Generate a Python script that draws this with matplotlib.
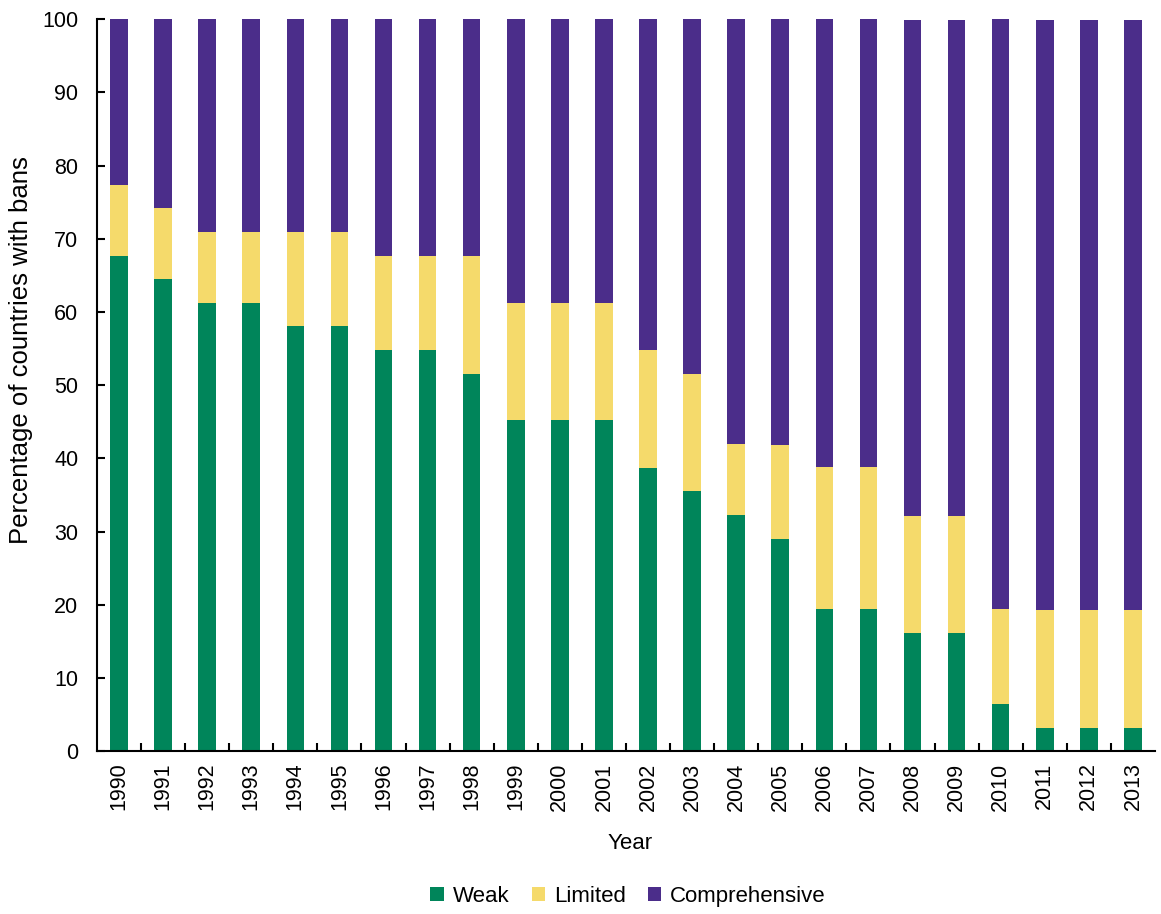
import numpy as np
import matplotlib
matplotlib.use("Agg")
from matplotlib import pyplot as plt

plt.rcParams['font.family'] = ['Liberation Sans', 'DejaVu Sans']

years = [str(y) for y in range(1990, 2014)]
weak = [67.7, 64.5, 61.3, 61.3, 58.1, 58.1, 54.8, 54.8, 51.6, 45.2, 45.2, 45.2,
        38.7, 35.5, 32.3, 29.0, 19.4, 19.4, 16.1, 16.1, 6.5, 3.2, 3.2, 3.2]
limited = [9.7, 9.7, 9.7, 9.7, 12.9, 12.9, 12.9, 12.9, 16.1, 16.1, 16.1, 16.1,
           16.1, 16.1, 9.7, 12.9, 19.4, 19.4, 16.1, 16.1, 12.9, 16.1, 16.1, 16.1]
comprehensive = [22.6, 25.8, 29.0, 29.0, 29.0, 29.0, 32.3, 32.3, 32.3, 38.7, 38.7, 38.7,
                 45.2, 48.4, 58.1, 58.1, 61.3, 61.3, 67.7, 67.7, 80.6, 80.6, 80.6, 80.6]

c_weak = '#00855a'
c_lim = '#f5da6b'
c_comp = '#4b2d8a'

fig = plt.figure(figsize=(11.61, 9.14), dpi=100)
ax = fig.add_axes([0.0835, 0.178, 0.9113, 0.801])

x = np.arange(len(years))
w = 0.4
weak = np.array(weak)
limited = np.array(limited)
comprehensive = np.array(comprehensive)
ax.bar(x, weak, w, color=c_weak, label='Weak')
ax.bar(x, limited, w, bottom=weak, color=c_lim, label='Limited')
ax.bar(x, comprehensive, w, bottom=weak + limited, color=c_comp, label='Comprehensive')

ax.set_xlim(-0.5, len(years) - 0.5)
ax.set_ylim(0, 100)
ax.set_yticks(np.arange(0, 101, 10))
ax.tick_params(axis='y', direction='in', length=6, width=1.5, labelsize=15.5, pad=13.5)

ax.set_xticks(x)
ax.set_xticklabels(years, rotation=90, fontsize=15.5)
ax.tick_params(axis='x', which='major', length=0, pad=8)
ax.set_xticks(np.arange(0.5, len(years) - 1, 1), minor=True)
ax.tick_params(axis='x', which='minor', direction='in', length=6, width=1.5)

for s in ['top', 'right']:
    ax.spines[s].set_visible(False)
for s in ['left', 'bottom']:
    ax.spines[s].set_linewidth(1.5)

ax.set_ylabel('Percentage of countries with bans', fontsize=18.5)
ax.yaxis.set_label_coords(-0.06, 0.548)
ax.set_xlabel('Year', fontsize=16)
ax.xaxis.set_label_coords(0.504, -0.112)

fig.legend(loc='center', bbox_to_anchor=(0.541, 0.019), ncol=3, frameon=False,
           fontsize=16, handlelength=0.6, handleheight=0.6, handletextpad=0.4,
           columnspacing=1.0, borderpad=0)

fig.savefig('out.png', dpi=100)
